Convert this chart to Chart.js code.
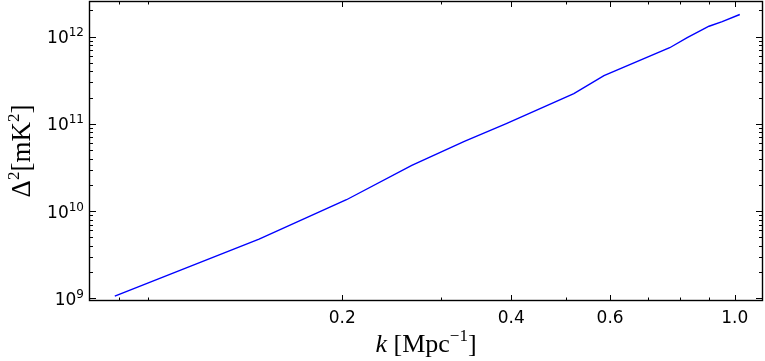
<!DOCTYPE html>
<html>
<head>
<meta charset="utf-8">
<script src="https://cdn.jsdelivr.net/npm/chart.js@4"></script>
<style>
  body { margin: 0; background: #fff; }
  #wrap { width: 765px; height: 361px; }
</style>
</head>
<body>
<div id="wrap"><canvas id="myChart" width="765" height="361"></canvas></div>
<script>
// values
const kValues = [0.0787, 0.1422, 0.2035, 0.266, 0.330, 0.391, 0.517, 0.585, 0.766, 0.823, 0.900, 0.950, 1.021];
const deltaSq = [1.06e9, 4.77e9, 1.35e10, 3.34e10, 6.31e10, 1.0e11, 2.23e11, 3.59e11, 7.48e11, 9.75e11, 1.32e12, 1.49e12, 1.80e12];

const xMajorTicks = [0.2, 0.4, 0.6, 1.0];
const xTickLabels = ['0.2', '0.4', '0.6', '1.0'];
const xMinorTicks = [0.08, 0.09, 0.3, 0.5, 0.7, 0.8, 0.9];
const yMajorTicks = [1e9, 1e10, 1e11, 1e12];
const yTickExps = ['9', '10', '11', '12'];

const xMin = 0.0708, xMax = 1.123;
const yMin = 9.31e8, yMax = 2.57e12;

let yMinorTicks = [];
[1e8, 1e9, 1e10, 1e11, 1e12].forEach(d => {
  for (let m = 2; m <= 9; m++) yMinorTicks.push(m * d);
});

// draw a row of text pieces (for superscripts)
function richText(ctx, parts, x, y, align) {
  let total = 0;
  parts.forEach(p => { ctx.font = p.font; total += ctx.measureText(p.t).width; });
  let cx = align === 'center' ? x - total / 2 : (align === 'right' ? x - total : x);
  ctx.textAlign = 'left';
  ctx.textBaseline = 'alphabetic';
  parts.forEach(p => {
    ctx.font = p.font;
    ctx.fillText(p.t, cx, y - (p.dy || 0));
    cx += ctx.measureText(p.t).width;
  });
}

const axesPlugin = {
  id: 'axesPlugin',
  afterDraw(chart) {
    const ctx = chart.ctx;
    const a = chart.chartArea;
    const xs = chart.scales.x, ys = chart.scales.y;
    ctx.save();
    ctx.strokeStyle = '#000';
    ctx.fillStyle = '#000';

    // ticks, inward on all four sides
    ctx.lineWidth = 1;
    const line = (x0, y0, x1, y1) => { ctx.beginPath(); ctx.moveTo(x0, y0); ctx.lineTo(x1, y1); ctx.stroke(); };
    const xt = (v, len) => {
      const px = Math.round(xs.getPixelForValue(v)) + 0.5;
      if (px < a.left || px > a.right) return;
      line(px, a.bottom, px, a.bottom - len);
      line(px, a.top, px, a.top + len);
    };
    const yt = (v, len) => {
      const py = Math.round(ys.getPixelForValue(v)) + 0.5;
      if (py < a.top || py > a.bottom) return;
      line(a.left, py, a.left + len, py);
      line(a.right, py, a.right - len, py);
    };
    xMajorTicks.forEach(v => xt(v, 6));
    xMinorTicks.forEach(v => xt(v, 3.5));
    yMajorTicks.forEach(v => yt(v, 7));
    yMinorTicks.forEach(v => yt(v, 4));

    // frame
    ctx.lineWidth = 1.4;
    ctx.strokeRect(a.left + 0.5, a.top + 0.5, a.right - a.left - 1, a.bottom - a.top - 1);

    // tick labels
    ctx.font = '17px "DejaVu Sans"';
    ctx.textAlign = 'center';
    ctx.textBaseline = 'alphabetic';
    xMajorTicks.forEach((v, i) => {
      ctx.fillText(xTickLabels[i], xs.getPixelForValue(v), 323);
    });
    yMajorTicks.forEach((v, i) => {
      const py = ys.getPixelForValue(v);
      richText(ctx, [
        { t: '10', font: '17px "DejaVu Sans"' },
        { t: yTickExps[i], font: '12px "DejaVu Sans"', dy: 7 }
      ], 84, py + 6.5, 'right');
    });

    // axis titles
    richText(ctx, [
      { t: 'k', font: 'italic 26px "Liberation Serif"' },
      { t: ' [Mpc', font: '26px "Liberation Serif"' },
      { t: '\u22121', font: '17px "Liberation Serif"', dy: 11 },
      { t: ']', font: '26px "Liberation Serif"' }
    ], (a.left + a.right) / 2, 352, 'center');

    ctx.translate(30, (a.top + a.bottom) / 2);
    ctx.rotate(-Math.PI / 2);
    richText(ctx, [
      { t: '\u0394', font: '27px "Liberation Serif"' },
      { t: '2', font: '17px "Liberation Serif"', dy: 11 },
      { t: '[mK', font: '27px "Liberation Serif"' },
      { t: '2', font: '17px "Liberation Serif"', dy: 11 },
      { t: ']', font: '27px "Liberation Serif"' }
    ], 0, 0, 'center');
    ctx.restore();
  }
};

const ctx = document.getElementById('myChart').getContext('2d');
const myChart = new Chart(ctx, {
  type: 'line',
  data: {
    datasets: [{
      data: kValues.map((k, i) => ({ x: k, y: deltaSq[i] })),
      borderColor: '#0000ff',
      borderWidth: 1.4,
      pointRadius: 0,
      tension: 0,
      fill: false
    }]
  },
  options: {
    responsive: false,
    animation: false,
    devicePixelRatio: 1,
    layout: { padding: { left: 0, right: 2, top: 1, bottom: 0 } },
    plugins: { legend: { display: false }, tooltip: { enabled: false } },
    scales: {
      x: {
        type: 'logarithmic',
        min: xMin, max: xMax,
        grid: { display: false },
        border: { display: false },
        ticks: { display: false },
        afterFit: (s) => { s.height = 60; }
      },
      y: {
        type: 'logarithmic',
        min: yMin, max: yMax,
        grid: { display: false },
        border: { display: false },
        ticks: { display: false },
        afterFit: (s) => { s.width = 89; }
      }
    }
  },
  plugins: [axesPlugin]
});
</script>
</body>
</html>
